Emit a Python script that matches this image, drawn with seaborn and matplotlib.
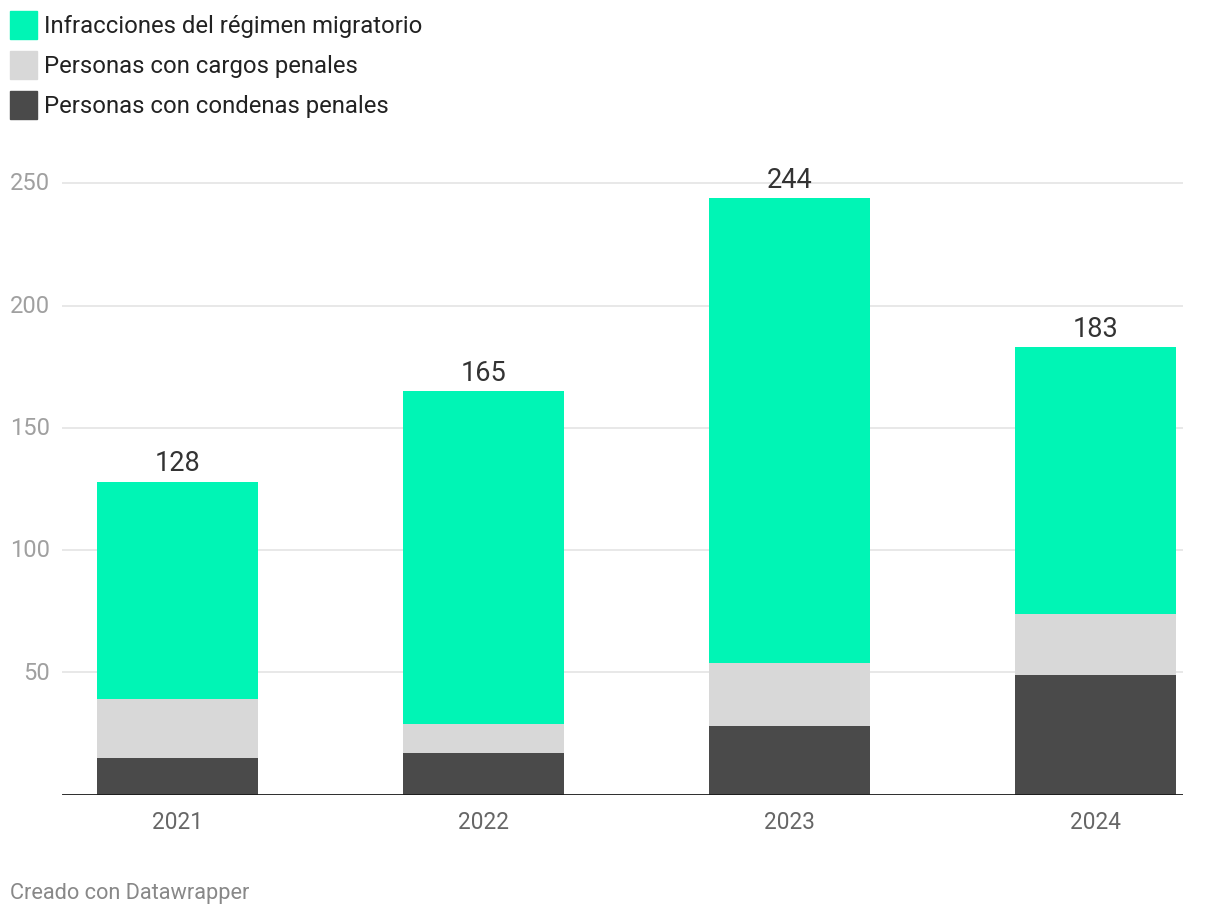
import numpy as np
import pandas as pd
import seaborn as sns
import matplotlib.pyplot as plt
from matplotlib.patches import Rectangle

sns.set_style("white")
plt.rcParams['font.family'] = ['Roboto', 'DejaVu Sans']

# Data
years = ['2021', '2022', '2023', '2024']
condenas = [15, 17, 28, 49]
cargos = [24, 12, 26, 25]
infracciones = [89, 136, 190, 109]
series_names = ['Infracciones del régimen migratorio',
                'Personas con cargos penales',
                'Personas con condenas penales']
colors = ['#00F5B5', '#D8D8D8', '#4A4A4A']

df = pd.DataFrame({'year': years, 'condenas': condenas,
                   'cargos': cargos, 'infracciones': infracciones})
df['lvl2'] = df['condenas'] + df['cargos']
df['total'] = df['lvl2'] + df['infracciones']

fig = plt.figure(figsize=(12.2, 9.18), dpi=100)
ax = fig.add_axes([62 / 1220, 123.2 / 918, 1121 / 1220, 636 / 918])

# stacked bars drawn back to front
for col, c in zip(['total', 'lvl2', 'condenas'], colors):
    sns.barplot(df, x='year', y=col, color=c, width=0.526, order=years,
                saturation=1, ax=ax, zorder=3, linewidth=0, edgecolor='none')

ax.set_xlim(-0.377, 3.286)
ax.set_ylim(0, 260)
ax.set_xlabel('')
ax.set_ylabel('')
for s in ax.spines.values():
    s.set_visible(False)

# gridlines and baseline
for v in [50, 100, 150, 200, 250]:
    ax.axhline(v, color='#E6E6E6', lw=1.3, zorder=1)
ax.axhline(0, color='#1a1a1a', lw=2, zorder=4)

ax.set_yticks([])
ax.set_xticks(range(4))
ax.set_xticklabels(years, fontsize=16.3, color='#666666')
ax.tick_params(axis='x', length=0, pad=12)

# y labels, right aligned left of the gridlines
for v in [50, 100, 150, 200, 250]:
    ax.text(-0.377 - 12 / 306, v - 0.3, str(v), fontsize=17, color='#A0A0A0',
            ha='right', va='center', clip_on=False)

# totals above bars
for i, t in enumerate(df['total']):
    ax.text(i, t + 1.8, str(t), fontsize=19.5, color='#333333',
            ha='center', va='bottom')

# legend
for k, (name, c) in enumerate(zip(series_names, colors)):
    yc = 25 + 40 * k
    fig.patches.append(Rectangle((10 / 1220, 1 - (yc + 14) / 918), 27 / 1220, 28 / 918,
                                 transform=fig.transFigure, color=c))
    fig.text(44 / 1220, 1 - (yc + 1.5) / 918, name, fontsize=17.2, color='#222222',
             ha='left', va='center')

fig.text(10 / 1220, 1 - 894 / 918, 'Creado con Datawrapper', fontsize=15.7,
         color='#888888', ha='left', va='center')

fig.savefig('out.png', dpi=100, facecolor='white')
